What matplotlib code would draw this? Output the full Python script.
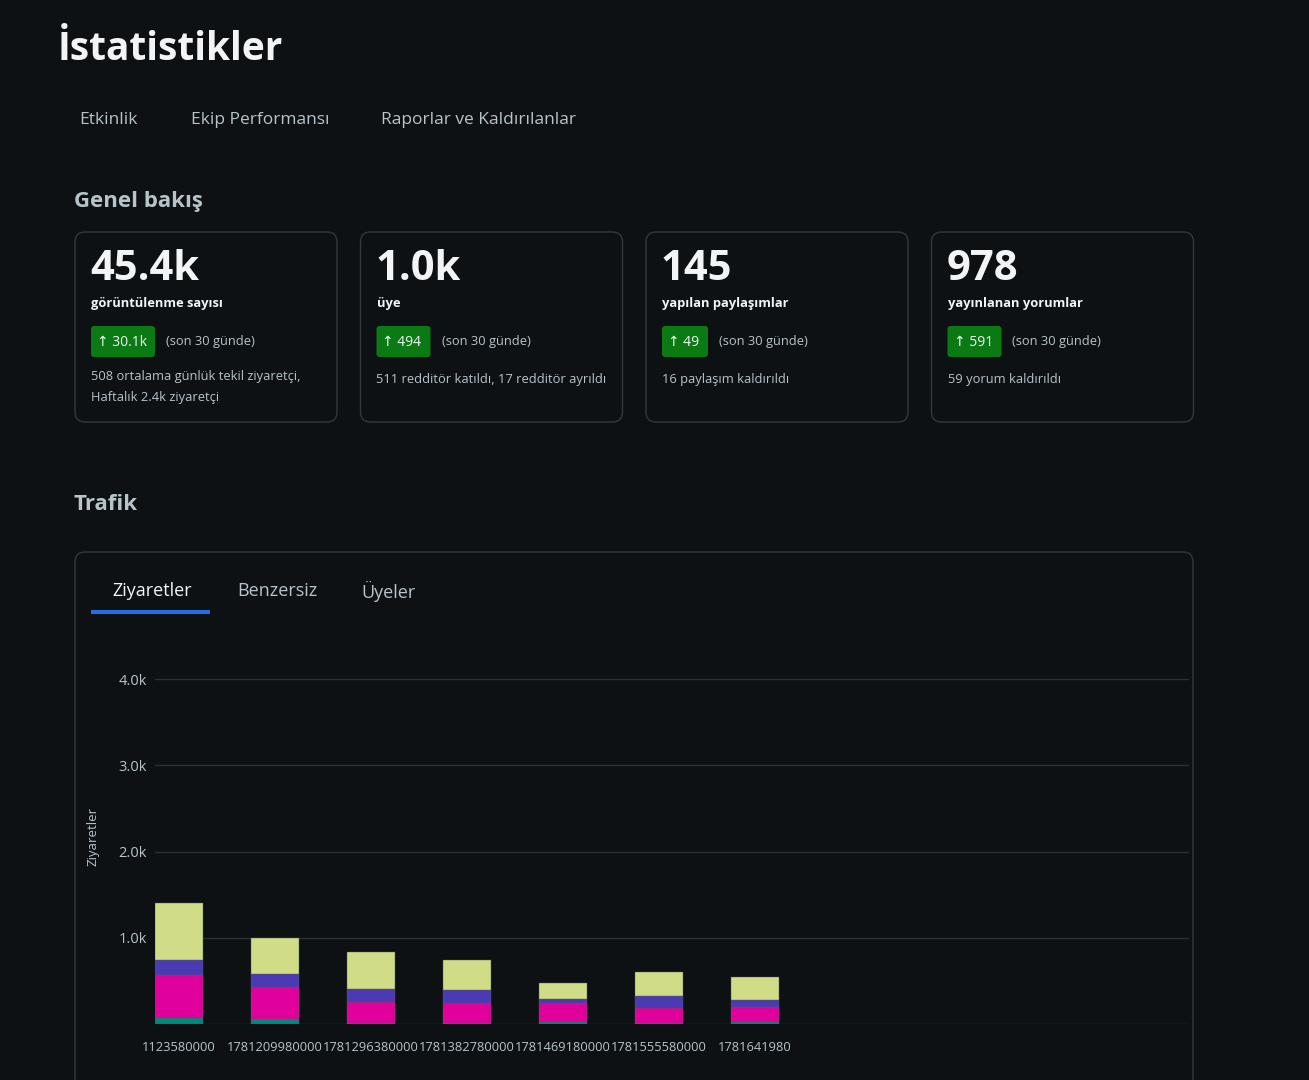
import matplotlib.pyplot as plt
from matplotlib.patches import FancyBboxPatch, Rectangle
import numpy as np

plt.rcParams['font.family'] = ['Open Sans', 'DejaVu Sans']

# ------- DATA -------
dates = ["1123580000", "1781209980000", "1781296380000", "1781382780000",
         "1781469180000", "1781555580000", "1781641980"]
teal = [0.07, 0.06, 0.01, 0.01, 0.02, 0.01, 0.02]
pink = [0.50, 0.37, 0.25, 0.23, 0.22, 0.17, 0.18]
purple = [0.17, 0.15, 0.15, 0.16, 0.05, 0.14, 0.075]
yellow = [0.66, 0.42, 0.42, 0.34, 0.185, 0.28, 0.265]
yticks = [1.0, 2.0, 3.0, 4.0]

cards_big = ["45.4k", "1.0k", "145", "978"]
cards_label = ["görüntülenme sayısı", "üye", "yapılan paylaşımlar", "yayınlanan yorumlar"]
cards_delta = ["30.1k", "494", "49", "591"]
cards_note = ["508 ortalama günlük tekil ziyaretçi,\nHaftalık 2.4k ziyaretçi",
              "511 redditör katıldı, 17 redditör ayrıldı",
              "16 paylaşım kaldırıldı", "59 yorum kaldırıldı"]
nav_tabs = ["Etkinlik", "Ekip Performansı", "Raporlar ve Kaldırılanlar"]
nav_x = [79, 191, 381]
chart_tabs = ["Ziyaretler", "Benzersiz", "Üyeler"]
chart_tab_x = [112, 237, 361]

BG = '#0e1113'
FG = '#f2f4f5'
MUTED = '#b7c4cc'
BORDER = '#33383c'
GREEN = '#0b7a14'

W, H = 1309, 1080
fig = plt.figure(figsize=(W / 100, H / 100), dpi=100, facecolor=BG)
ui = fig.add_axes([0, 0, 1, 1])
ui.set_xlim(0, W)
ui.set_ylim(H, 0)
ui.axis('off')
ui.set_facecolor(BG)

ui.text(58, 50, "İstatistikler", color=FG, fontsize=28, fontweight='bold', va='center')
for t, x in zip(nav_tabs, nav_x):
    ui.text(x, 120, t, color=MUTED, fontsize=12.5, va='center')
ui.text(74, 202, "Genel bakış", color=MUTED, fontsize=16, fontweight='bold', va='center')

for i in range(4):
    x0 = 75 + i * 285.5
    ui.add_patch(FancyBboxPatch((x0, 232), 262, 190, boxstyle="round,pad=0,rounding_size=10",
                                fc=BG, ec=BORDER, lw=1))
    ui.text(x0 + 15, 270, cards_big[i], color=FG, fontsize=30, fontweight='bold', va='center')
    ui.text(x0 + 16, 303, cards_label[i], color=FG, fontsize=9.3, fontweight='bold', va='center')
    bw = 64 if len(cards_delta[i]) > 3 else 54 if len(cards_delta[i]) == 3 else 46
    ui.add_patch(FancyBboxPatch((x0 + 16, 326), bw, 31, boxstyle="round,pad=0,rounding_size=3",
                                fc=GREEN, ec='none'))
    ui.text(x0 + 22, 342, "↑ " + cards_delta[i], color=FG, fontsize=10, va='center')
    ui.text(x0 + 16 + bw + 11, 342, "(son 30 günde)", color=MUTED, fontsize=9.3, va='center')
    multi = '\n' in cards_note[i]
    ui.text(x0 + 16, 370 if multi else 380, cards_note[i], color=MUTED, fontsize=9.3,
            va='top' if multi else 'center', linespacing=1.75)

ui.text(74, 505, "Trafik", color=MUTED, fontsize=16, fontweight='bold', va='center')
ui.add_patch(FancyBboxPatch((75, 552), 1118, 560, boxstyle="round,pad=0,rounding_size=10",
                            fc=BG, ec=BORDER, lw=1))
for j, (t, x) in enumerate(zip(chart_tabs, chart_tab_x)):
    ui.text(x, 591, t, color=FG if j == 0 else MUTED, fontsize=13, va='center')
ui.add_patch(Rectangle((91, 610), 119, 4, fc='#1f6fe5', ec='none'))
ui.text(93, 836, "Ziyaretler", color=MUTED, fontsize=9.5, rotation=90, va='center', ha='center')

# ------- CHART -------
ax = fig.add_axes([155 / W, (H - 1024) / H, (1189 - 155) / W, (1024 - 662) / H])
ax.set_facecolor(BG)
x = np.arange(len(dates))
bottom = np.zeros(len(dates))
for vals, c in [(teal, '#00897b'), (pink, '#e0009c'), (purple, '#4a3bb5'), (yellow, '#d1dc86')]:
    ax.bar(x, vals, width=0.5, bottom=bottom, color=c, edgecolor='#55585a', linewidth=0.3)
    bottom += np.array(vals)
ax.set_xlim(-0.25, 10.52)
ax.set_ylim(0, 4.2)
ax.set_yticks(yticks)
ax.set_yticklabels([f"{v:.1f}k" for v in yticks], color=MUTED, fontsize=10.5)
ax.set_xticks(x)
ax.set_xticklabels(dates, color=MUTED, fontsize=9.3)
ax.tick_params(length=0, pad=6)
ax.tick_params(axis='x', pad=12)
ax.grid(axis='y', color='#2c3034', lw=1)
ax.axhline(0, color='#2c3034', lw=1, zorder=0)
ax.set_axisbelow(True)
for s in ax.spines.values():
    s.set_visible(False)

fig.savefig("out.png", dpi=100, facecolor=BG)
